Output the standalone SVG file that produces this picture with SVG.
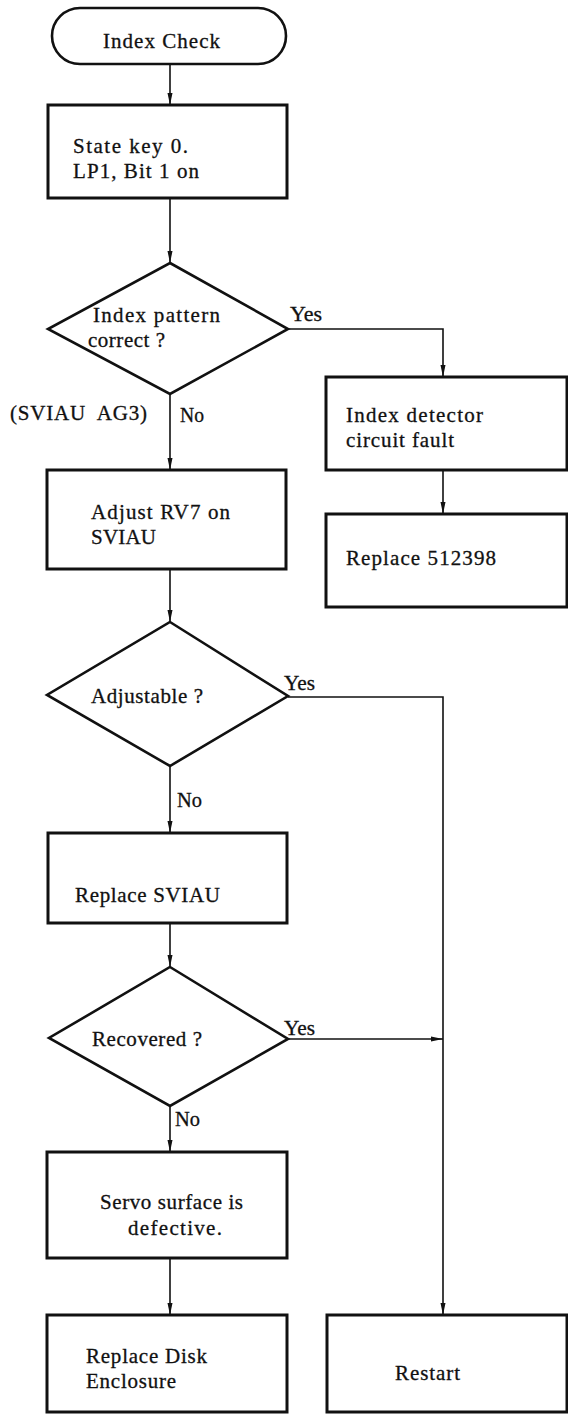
<svg xmlns="http://www.w3.org/2000/svg" width="568" height="1415" viewBox="0 0 568 1415">
<style>
.box{fill:#fff;stroke:#111;stroke-width:3}
.dia{fill:#fff;stroke:#111;stroke-width:2.6;stroke-linejoin:miter}
.term{fill:#fff;stroke:#111;stroke-width:2.6}
.con{fill:none;stroke:#111;stroke-width:1.6}
text{font-family:"Liberation Serif","Times New Roman",serif;font-size:21px;fill:#111;stroke:#111;stroke-width:0.3}
</style>
<defs>
<marker id="ah" markerUnits="userSpaceOnUse" markerWidth="12" markerHeight="6" refX="12" refY="3" orient="auto">
<path d="M0,0.5 L12,3 L0,5.5 z" fill="#111"/>
</marker>
</defs>
<rect width="568" height="1415" fill="#fff"/>
<g id="connectors">
<path class="con" d="M170,64 V105" marker-end="url(#ah)"/>
<path class="con" d="M170,198 V263" marker-end="url(#ah)"/>
<path class="con" d="M170,394 V470" marker-end="url(#ah)"/>
<path class="con" d="M170,569 V622" marker-end="url(#ah)"/>
<path class="con" d="M170,766 V833" marker-end="url(#ah)"/>
<path class="con" d="M170,923 V967" marker-end="url(#ah)"/>
<path class="con" d="M170,1106 V1152" marker-end="url(#ah)"/>
<path class="con" d="M170,1258 V1315" marker-end="url(#ah)"/>
<path class="con" d="M288,329 H443 V377" marker-end="url(#ah)"/>
<path class="con" d="M443,470 V514" marker-end="url(#ah)"/>
<path class="con" d="M288,697 H443 V1315" marker-end="url(#ah)"/>
<path class="con" d="M288,1039 H443" marker-end="url(#ah)"/>
<text x="290" y="321" textLength="32" lengthAdjust="spacingAndGlyphs">Yes</text>
<text x="180" y="422" textLength="24" lengthAdjust="spacingAndGlyphs">No</text>
<text x="10" y="420" textLength="137" lengthAdjust="spacing" xml:space="preserve">(SVIAU  AG3)</text>
<text x="284" y="690" textLength="31" lengthAdjust="spacingAndGlyphs">Yes</text>
<text x="177" y="807" textLength="25" lengthAdjust="spacingAndGlyphs">No</text>
<text x="284" y="1035" textLength="31" lengthAdjust="spacingAndGlyphs">Yes</text>
<text x="175" y="1126" textLength="25" lengthAdjust="spacingAndGlyphs">No</text>
</g>
<g id="start">
<rect class="term" x="52" y="8" width="234" height="56" rx="28"/>
<text x="103" y="48" textLength="117" lengthAdjust="spacing">Index Check</text>
</g>
<g id="state-key">
<rect class="box" x="48" y="105" width="239" height="93"/>
<text x="73" y="153" textLength="115" lengthAdjust="spacing">State key 0.</text>
<text x="73" y="178" textLength="126" lengthAdjust="spacing">LP1, Bit 1 on</text>
</g>
<g id="index-pattern">
<polygon class="dia" points="170,263 288,329 170,394 48,329"/>
<text x="93" y="322" textLength="127" lengthAdjust="spacing">Index pattern</text>
<text x="88" y="347" textLength="77" lengthAdjust="spacing">correct ?</text>
</g>
<g id="index-detector">
<rect class="box" x="326" y="377" width="241" height="93"/>
<text x="346" y="422" textLength="137" lengthAdjust="spacing">Index detector</text>
<text x="346" y="447" textLength="108" lengthAdjust="spacing">circuit fault</text>
</g>
<g id="replace-512398">
<rect class="box" x="326" y="514" width="241" height="93"/>
<text x="346" y="565" textLength="150" lengthAdjust="spacing">Replace 512398</text>
</g>
<g id="adjust-rv7">
<rect class="box" x="47" y="470" width="239" height="99"/>
<text x="91" y="519" textLength="139" lengthAdjust="spacing">Adjust RV7 on</text>
<text x="91" y="544" textLength="65" lengthAdjust="spacing">SVIAU</text>
</g>
<g id="adjustable">
<polygon class="dia" points="170,622 288,696 170,766 47,695"/>
<text x="91" y="703" textLength="112" lengthAdjust="spacing">Adjustable ?</text>
</g>
<g id="replace-sviau">
<rect class="box" x="48" y="833" width="239" height="90"/>
<text x="75" y="902" textLength="145" lengthAdjust="spacing">Replace SVIAU</text>
</g>
<g id="recovered">
<polygon class="dia" points="170,967 288,1039 170,1106 49,1038"/>
<text x="92" y="1046" textLength="110" lengthAdjust="spacing">Recovered ?</text>
</g>
<g id="servo-surface">
<rect class="box" x="47" y="1152" width="240" height="106"/>
<text x="100" y="1209" textLength="143" lengthAdjust="spacing">Servo surface is</text>
<text x="128" y="1235" textLength="94" lengthAdjust="spacing">defective.</text>
</g>
<g id="replace-disk">
<rect class="box" x="47" y="1315" width="240" height="97"/>
<text x="86" y="1363" textLength="121" lengthAdjust="spacing">Replace Disk</text>
<text x="86" y="1388" textLength="90" lengthAdjust="spacing">Enclosure</text>
</g>
<g id="restart">
<rect class="box" x="327" y="1315" width="240" height="97"/>
<text x="395" y="1380" textLength="65" lengthAdjust="spacing">Restart</text>
</g>
</svg>
